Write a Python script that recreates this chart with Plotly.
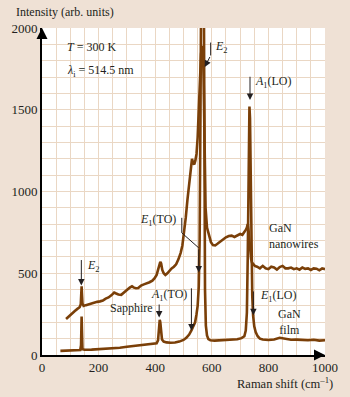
import plotly.graph_objects as go

# ---------------- data ----------------
wire_x = [85, 95, 105, 115, 125, 133, 137, 139, 140, 141, 143, 147, 155, 165, 175, 185, 195, 205, 215,
          225, 235, 245, 255, 262, 270, 280, 290, 300, 310, 318, 325, 332, 340, 350, 360, 370, 380, 390,
          398, 405, 410, 414, 418, 421, 425, 430, 436, 443, 450, 458, 466, 474, 482, 490, 496, 502, 508,
          514, 520, 526, 530, 534, 538, 542, 546, 550, 554, 558, 562, 565, 568, 571, 574, 578, 583, 590,
          597, 604, 612, 620, 630, 640, 650, 660, 670, 680, 690, 700, 708, 715, 720, 724, 727, 730, 733,
          736, 739, 742, 746, 752, 760, 770, 780, 790, 800, 810, 820, 830, 840, 850, 860, 870, 880, 890,
          900, 910, 920, 930, 940, 950, 960, 970, 980, 990, 1000]
wire_y = [220, 238, 252, 268, 282, 292, 310, 380, 420, 380, 315, 300, 305, 310, 318, 320, 325, 328, 333,
          345, 352, 365, 382, 376, 370, 368, 385, 398, 412, 420, 412, 408, 410, 425, 432, 438, 445, 455,
          470, 490, 520, 550, 570, 560, 520, 500, 490, 500, 515, 530, 540, 555, 585, 625, 670, 740, 840,
          950, 1060, 1170, 1200, 1175, 1165, 1190, 1230, 1330, 1500, 1700, 1840, 1880, 1890, 1700, 1200, 900, 780, 730,
          690, 672, 670, 680, 695, 705, 720, 728, 730, 722, 730, 740, 735, 750, 765, 780, 800, 760, 700,
          620, 585, 565, 555, 545, 540, 530, 545, 530, 525, 540, 535, 522, 538, 545, 530, 530, 535, 525,
          530, 522, 535, 527, 530, 520, 530, 528, 518, 530, 525]

film_x = [65, 80, 100, 120, 135, 138, 139, 140, 141, 143, 150, 175, 200, 225, 250, 275, 300, 325, 350,
          375, 395, 405, 410, 413, 416, 418, 420, 424, 430, 440, 455, 470, 485, 500, 510, 520, 528, 535,
          541, 546, 550, 554, 557, 560, 563, 566, 568, 570, 572, 574, 576, 579, 583, 588, 595, 610, 630,
          650, 670, 690, 705, 715, 720, 724, 727, 730, 733, 735, 737, 740, 743, 746, 750, 755, 762, 770,
          780, 800, 820, 840, 860, 880, 900, 920, 940, 960, 980, 1000]
film_y = [25, 27, 28, 30, 30, 60, 180, 235, 160, 35, 32, 33, 35, 37, 40, 44, 50, 55, 60,
          64, 68, 72, 90, 150, 215, 200, 140, 95, 82, 77, 75, 76, 82, 92, 105, 125, 150, 175,
          200, 250, 300, 420, 700, 1500, 3000, 4000, 4000, 3500, 2200, 900, 400, 180, 120, 97, 90, 88, 90,
          88, 91, 96, 103, 115, 150, 260, 600, 1200, 1520, 1450, 1100, 650, 360, 240, 175, 140, 115, 100,
          95, 92, 95, 105, 97, 93, 94, 92, 90, 93, 88, 90]

x_ticks = [0, 200, 400, 600, 800, 1000]
y_ticks = [0, 500, 1000, 1500, 2000]

BROWN = "#7A3F08"
BG = "#EFE1D5"
GRID = "#EAD7C4"
FONT = "Liberation Serif"
TXT = "#231F20"

fig = go.Figure()
fig.add_trace(go.Scatter(x=film_x, y=film_y, mode="lines",
                         line=dict(color=BROWN, width=2.6), hoverinfo="skip"))
fig.add_trace(go.Scatter(x=wire_x, y=wire_y, mode="lines",
                         line=dict(color=BROWN, width=2.6), hoverinfo="skip"))

ann = []
def label(x, y, text, xanchor="left", align="left"):
    ann.append(dict(x=x, y=y, xref="x", yref="y", text=text, showarrow=False,
                    xanchor=xanchor, yanchor="middle", align=align,
                    font=dict(family=FONT, size=12, color=TXT)))

def arrow(x0, y0, x1, y1):
    ann.append(dict(x=x1, y=y1, ax=x0, ay=y0, xref="x", yref="y", axref="x", ayref="y",
                    text="", showarrow=True, arrowhead=2, arrowsize=1.3, arrowwidth=1,
                    arrowcolor=TXT))

def seg(x0, y0, x1, y1):
    fig.add_shape(type="line", x0=x0, y0=y0, x1=x1, y1=y1, xref="x", yref="y",
                  line=dict(color=TXT, width=1))

label(80, 1881, "<i>T</i> = 300 K")
label(80, 1734, "<i>λ</i><sub>i</sub> = 514.5 nm")

label(153, 545, "<i>E</i><sub>2</sub>")
arrow(139, 590, 139, 425)

label(401, 288, "Sapphire", xanchor="right")
arrow(414, 318, 414, 230)

label(378, 368, "<i>A</i><sub>1</sub>(TO)")
arrow(528, 417, 528, 150)

label(481, 827, "<i>E</i><sub>1</sub>(TO)", xanchor="right")
seg(494, 839, 494, 747)
seg(494, 747, 554, 655)
arrow(554, 655, 554, 505)

label(603, 1881, "<i>E</i><sub>2</sub>")
seg(596, 1911, 596, 1832)
arrow(596, 1832, 575, 1762)

label(746, 1672, "<i>A</i><sub>1</sub>(LO)")
arrow(735, 1711, 735, 1560)

label(794, 726, "GaN<br>nanowires")

label(763, 361, "<i>E</i><sub>1</sub>(LO)")
arrow(747, 398, 747, 243)

label(875, 202, "GaN<br>film", xanchor="center", align="center")

# axis titles
ann.append(dict(x=-39 / 287, y=1.0, xref="paper", yref="paper", xshift=10, yshift=7,
                text="Intensity (arb. units)", showarrow=False, xanchor="left", yanchor="bottom",
                font=dict(family=FONT, size=12, color=TXT)))
ann.append(dict(x=1.0, y=0, xref="paper", yref="paper", xshift=10, yshift=-18,
                text="Raman shift (cm<sup>–1</sup>)", showarrow=False, xanchor="right", yanchor="top",
                font=dict(family=FONT, size=12.5, color=TXT)))

# axis arrowheads
ann.append(dict(x=0, y=1.0, xref="x", yref="paper", ax=0, ay=12, text="", showarrow=True,
                arrowhead=2, arrowsize=1.1, arrowwidth=2, arrowcolor="#000000"))
ann.append(dict(x=1.0, y=0, xref="paper", yref="y", ax=-12, ay=0, text="", showarrow=True,
                arrowhead=2, arrowsize=1.1, arrowwidth=2, arrowcolor="#000000"))

fig.update_layout(
    width=350, height=397,
    margin=dict(l=39, r=24, t=28, b=42),
    paper_bgcolor=BG, plot_bgcolor="white",
    showlegend=False,
    annotations=ann,
    font=dict(family=FONT, size=12, color=TXT),
)
fig.update_xaxes(range=[0, 1000], tickvals=x_ticks, ticks="", showgrid=True,
                 gridcolor=GRID, gridwidth=1,
                 minor=dict(dtick=50, showgrid=True, gridcolor=GRID, gridwidth=1),
                 showline=True, linecolor="#000000", linewidth=1.6, zeroline=False,
                 tickfont=dict(family=FONT, size=13, color=TXT), fixedrange=True)
fig.update_yaxes(range=[0, 2000], tickvals=y_ticks, ticks="", showgrid=True,
                 gridcolor=GRID, gridwidth=1,
                 minor=dict(dtick=100, showgrid=True, gridcolor=GRID, gridwidth=1),
                 showline=True, linecolor="#000000", linewidth=1.6, zeroline=False,
                 tickfont=dict(family=FONT, size=13, color=TXT), fixedrange=True)

fig.write_html("out.html", config={"displayModeBar": False},
               post_script="document.body.style.margin='0';document.body.style.background='" + BG + "';")
